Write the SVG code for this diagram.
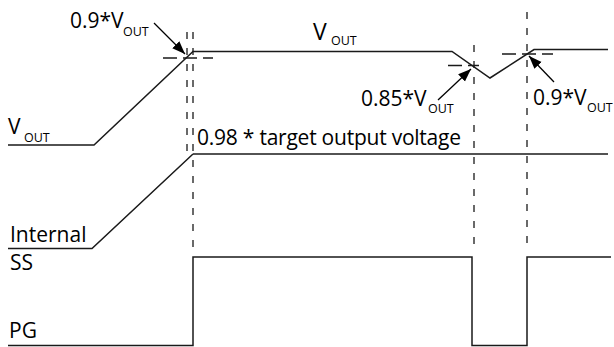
<svg xmlns="http://www.w3.org/2000/svg" width="614" height="347" viewBox="0 0 614 347">
<style>
.bg{fill:#ffffff}
.sig{fill:none;stroke:#1a1a1a;stroke-width:1.5;stroke-linejoin:miter}
.dv{fill:none;stroke:#1a1a1a;stroke-width:1.3;stroke-dasharray:7 9}
.dh{fill:none;stroke:#1a1a1a;stroke-width:1.3;stroke-dasharray:14 6}
.arr{fill:none;stroke:#000;stroke-width:1.3}
.t{font-family:"Open Sans","Noto Sans","Liberation Sans",sans-serif;font-size:21px;fill:#000}
.s{font-size:12.5px}
</style>
<defs>
<marker id="ah" markerUnits="userSpaceOnUse" markerWidth="14" markerHeight="11" refX="13" refY="5" orient="auto">
<path d="M0,0 L13,5 L0,10 Z" fill="#000"/>
</marker>
</defs>
<rect class="bg" x="0" y="0" width="614" height="347"/>
<g id="connectors">
<line class="dv" x1="187" y1="32" x2="187" y2="158"/>
<line class="dv" x1="193" y1="32" x2="193" y2="250"/>
<line class="dv" x1="474" y1="45" x2="474" y2="246"/>
<line class="dv" x1="527" y1="12" x2="527" y2="246"/>
<line class="dh" x1="163" y1="58" x2="213" y2="58"/>
<line class="dh" x1="448" y1="65.5" x2="479" y2="65.5"/>
<line class="dh" x1="502" y1="54" x2="553" y2="54"/>
<line class="arr" x1="154" y1="23" x2="185" y2="54" marker-end="url(#ah)"/>
<line class="arr" x1="438" y1="100" x2="471" y2="69" marker-end="url(#ah)"/>
<line class="arr" x1="554" y1="82" x2="529" y2="56" marker-end="url(#ah)"/>
</g>
<g id="vout">
<polyline class="sig" points="8,145 94,145 193,51.5 452,51.5 490,78 534,49.5 608,49.5"/>
<text class="t" x="8" y="133.5">V<tspan class="s" x="24" y="141.5">OUT</tspan></text>
</g>
<g id="vout-top-label">
<text class="t" x="313" y="40" style="font-size:23px">V<tspan class="s" x="331" y="44.5">OUT</tspan></text>
</g>
<g id="label-09-left">
<text class="t" x="70" y="28">0.9*V<tspan class="s" x="123" y="35.5">OUT</tspan></text>
</g>
<g id="label-085">
<text class="t" x="361" y="106">0.85*V<tspan class="s" x="428" y="113">OUT</tspan></text>
</g>
<g id="label-09-right">
<text class="t" x="533" y="105">0.9*V<tspan class="s" x="587" y="112">OUT</tspan></text>
</g>
<g id="internal-ss">
<line class="sig" x1="193" y1="154" x2="608" y2="154"/>
<polyline class="sig" points="8,248.5 92,248.5 193,154"/>
<text class="t" x="197" y="145" textLength="264" lengthAdjust="spacing">0.98 * target output voltage</text>
<text class="t" x="10" y="241.5">Internal</text>
<text class="t" x="10" y="270">SS</text>
</g>
<g id="pg">
<polyline class="sig" points="8,345.5 193,345.5 193,257 472,257 472,345.5 527,345.5 527,257 611,257"/>
<text class="t" x="9" y="338">PG</text>
</g>
</svg>
